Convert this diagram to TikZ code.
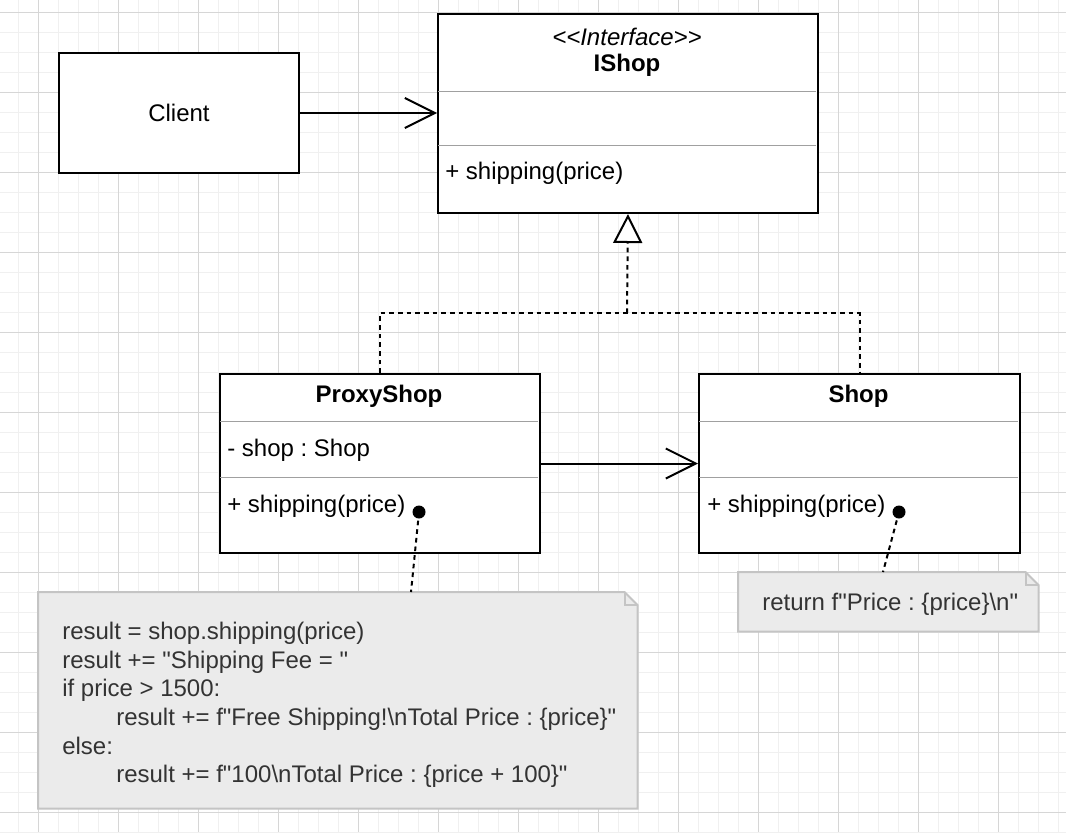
\documentclass[tikz,border=0pt]{standalone}
\usepackage{fontspec}
\setmainfont{Liberation Sans}[Ligatures=TeXOff]
\usetikzlibrary{arrows.meta}
\definecolor{gridmajor}{HTML}{D6D6D6}
\definecolor{gridminor}{HTML}{F0F0F0}
\definecolor{notefill}{HTML}{EBEBEB}
\definecolor{noteline}{HTML}{C4C4C4}
\definecolor{notetext}{HTML}{333333}
\definecolor{divline}{HTML}{A0A0A0}
\frenchspacing
\begin{document}
\begin{tikzpicture}[x=0.75pt,y=-0.75pt,
  classbox/.style={draw=black, line width=1.5pt, fill=white, anchor=north west, inner sep=0pt,
    font=\fontsize{18}{21.6}\selectfont},
  ctext/.style={inner sep=0pt, font=\fontsize{18}{21.6}\selectfont},
  ctitle/.style={inner sep=0pt, font=\fontsize{18}{21.6}\selectfont\bfseries},
  cstereo/.style={inner sep=0pt, font=\fontsize{18}{21.6}\selectfont\itshape},
  ntext/.style={inner sep=0pt, text=notetext, align=left, font=\fontsize{18}{21.4}\selectfont},
  divider/.style={draw=divline, line width=0.75pt},
  dashline/.style={line width=1.5pt, dash pattern=on 3.5pt off 3pt},
  assoc/.style={line width=1.5pt, -{Straight Barb[length=22.5pt,width=22.5pt]}},
  realize/.style={dashline, -{Triangle[open, fill=white, length=21.75pt, width=21.75pt, line width=1.5pt]}},
  notebox/.style={inner sep=0pt, anchor=north west},
  noteshape/.style={draw=noteline, fill=notefill, line width=1.5pt, line join=miter},
  dot/.style={circle, fill=black, inner sep=0pt, minimum size=9.75pt}
]
% background and grid
\fill[white] (0,0) rectangle (1066,832);
\useasboundingbox (0,0) rectangle (1066,832);
\foreach \x in {-2,18,...,1066} \draw[gridminor, line width=0.75pt] (\x,0) -- (\x,832);
\foreach \y in {12,32,...,832} \draw[gridminor, line width=0.75pt] (0,\y) -- (1066,\y);
\foreach \x in {38,118,...,1066} \draw[gridmajor, line width=0.75pt] (\x,0) -- (\x,832);
\foreach \y in {12,92,...,832} \draw[gridmajor, line width=0.75pt] (0,\y) -- (1066,\y);

% Client
\node[classbox, minimum width=180pt, minimum height=90pt] (client) at (58,52) {Client};

% IShop
\node[classbox, minimum width=285pt, minimum height=149.25pt] (ishop) at (437,13) {};
\draw[divider] (438,91) -- (816,91);
\draw[divider] (438,145) -- (816,145);
\node[cstereo] (istereo) at (627,36.5) {<<Interface>>};
\node[ctitle] (iname) at (627,65) {IShop};
\node[ctext, anchor=west] (iop) at (445,173.7) {+ shipping(price)};

% ProxyShop
\node[classbox, minimum width=240pt, minimum height=134.25pt] (proxy) at (219,373) {};
\draw[divider] (220,421) -- (538,421);
\draw[divider] (220,477) -- (538,477);
\node[ctitle] (pname) at (379,396.3) {ProxyShop};
\node[ctext, anchor=west] (pattr) at (227,450.5) {- shop : Shop};
\node[ctext, anchor=west] (pop) at (227,506) {+ shipping(price)};

% Shop
\node[classbox, minimum width=240.75pt, minimum height=134.25pt] (shop) at (698,373) {};
\draw[divider] (699,421) -- (1018,421);
\draw[divider] (699,477) -- (1018,477);
\node[ctitle] (sname) at (858.5,396.3) {Shop};
\node[ctext, anchor=west] (sop) at (707,506) {+ shipping(price)};

% associations
\draw[assoc] (client.east) -- (client.east -| ishop.west);
\draw[assoc] (proxy.east) -- (shop.west);

% realization
\coordinate (j) at (627,313);
\draw[dashline] (proxy.north) |- (j) -| (shop.north);
\draw[realize] (j) -- (ishop.south);

% note 1
\node[notebox, minimum width=449.25pt, minimum height=162pt] (note1) at (38,592) {};
\draw[noteshape] (note1.north west) -- ([xshift=-9.75pt]note1.north east) -- ([yshift=-9.75pt]note1.north east) -- (note1.south east) -- (note1.south west) -- cycle;
\draw[noteshape, fill=none] ([xshift=-9.75pt]note1.north east) -- ([xshift=-9.75pt,yshift=-9.75pt]note1.north east) -- ([yshift=-9.75pt]note1.north east);
\node[ntext, anchor=west] (t1) at (62,705) {result = shop.shipping(price)\\
result += "Shipping Fee = "\\
if price > 1500:\\
\hspace*{40.5pt}result += f"Free Shipping!\textbackslash nTotal Price : \{price\}"\\
else:\\
\hspace*{40.5pt}result += f"100\textbackslash nTotal Price : \{price + 100\}"};

% note 2
\node[notebox, minimum width=225pt, minimum height=44.25pt] (note2) at (738,572) {};
\draw[noteshape] (note2.north west) -- ([xshift=-9.75pt]note2.north east) -- ([yshift=-9.75pt]note2.north east) -- (note2.south east) -- (note2.south west) -- cycle;
\draw[noteshape, fill=none] ([xshift=-9.75pt]note2.north east) -- ([xshift=-9.75pt,yshift=-9.75pt]note2.north east) -- ([yshift=-9.75pt]note2.north east);
\node[ntext, anchor=west] (t2) at (762,604.5) {return f"Price : \{price\}\textbackslash n"};

% note connectors
\node[dot] (d1) at (419,512) {};
\node[dot] (d2) at (899,512) {};
\coordinate (n1) at (411,592);
\coordinate (n2) at (883,572);
\draw[dashline] (d1.center) -- (n1);
\draw[dashline] (d2.center) -- (n2);
\end{tikzpicture}
\end{document}
